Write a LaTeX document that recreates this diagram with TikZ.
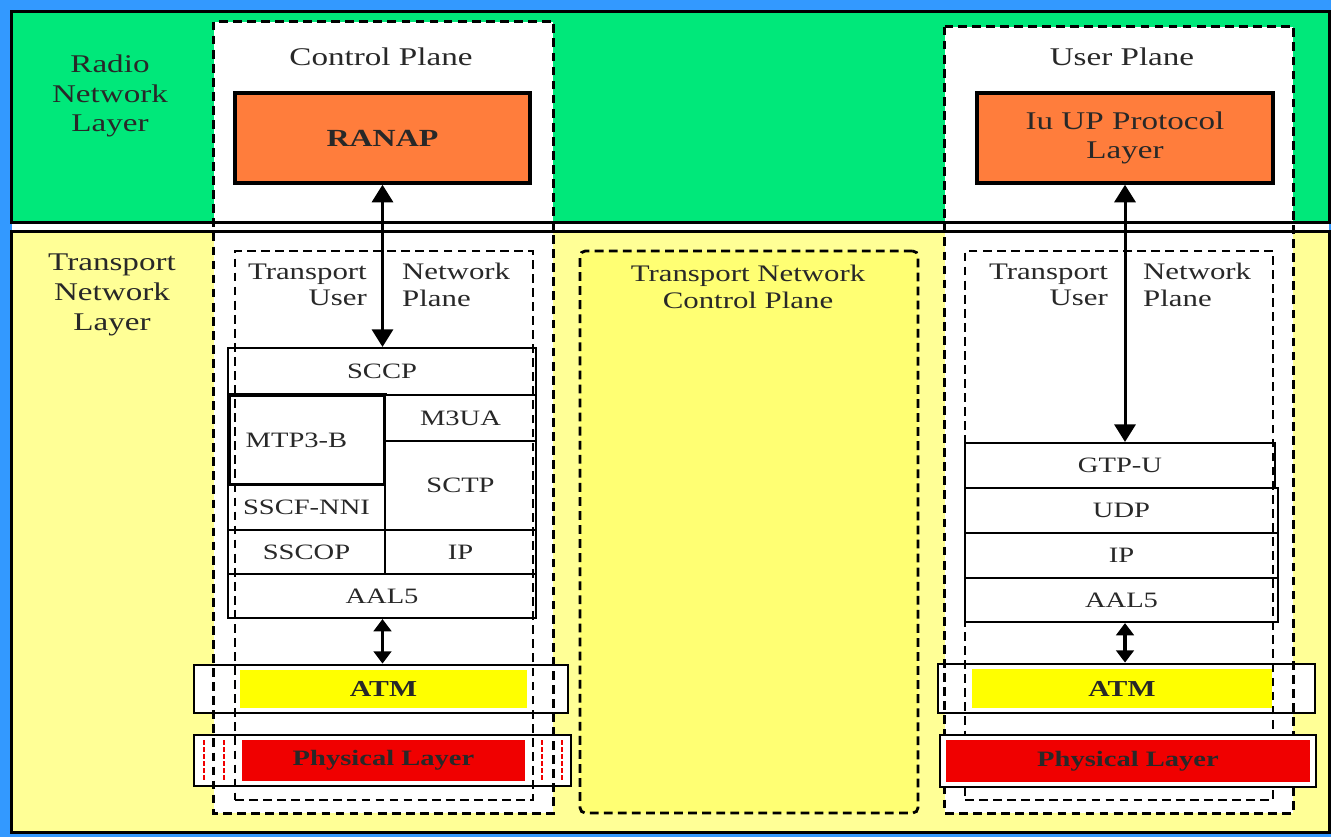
\documentclass[tikz,border=0pt]{standalone}
\usepackage{fontspec}
\setmainfont{Liberation Serif}[FakeStretch=1.3]
\usetikzlibrary{arrows.meta,fit,calc}
\definecolor{BgClr}{RGB}{51,153,255}
\definecolor{RadioClr}{RGB}{0,232,122}
\definecolor{TransportClr}{RGB}{255,255,150}
\definecolor{ControlClr}{RGB}{255,255,115}
\definecolor{ProtoClr}{RGB}{255,125,60}
\definecolor{AtmClr}{RGB}{255,255,0}
\definecolor{PhyClr}{RGB}{240,0,0}
\definecolor{TextClr}{RGB}{40,40,40}

\begin{document}
\begin{tikzpicture}[x=0.02cm,y=-0.02cm,
  box/.style={inner sep=0pt},
  band/.style={box,fill=#1},
  stacklbl/.style={text=TextClr,font=\fontsize{12.5}{14}\selectfont},
  protolbl/.style={text=TextClr,align=center,font=\fontsize{14.5}{16.5}\selectfont},
  widelbl/.style={text=TextClr,font=\bfseries\fontsize{13}{15}\selectfont},
  stack/.style={box,draw,line width=1.2pt,fill=white},
  proto/.style={box,draw,line width=2pt,fill=ProtoClr},
  wide/.style={box,draw,line width=1.6pt,fill=white},
  planeline/.style={line width=1.6pt,dash pattern=on 5pt off 3pt},
  title/.style={text=TextClr,align=center,font=\fontsize{14.5}{17}\selectfont},
  biarrow/.style={line width=1.7pt,arrows={Triangle[length=10pt,width=12pt]-Triangle[length=10pt,width=12pt]}},
  shortarrow/.style={line width=1.9pt,arrows={Triangle[length=7pt,width=10pt]-Triangle[length=7pt,width=10pt]}}
]
\fill[BgClr] (0,0) rectangle (1331,837);
\useasboundingbox (0,0) rectangle (1331,837);
\fill[white] (12,12) rectangle (1329,832);

% layers and planes
\node[band=RadioClr, fit={(12,12) (1329,222)}] (radio) {};
\node[band=TransportClr, fit={(12,232) (1329,832)}] (transport) {};
\node[band=white, fit={(214,22) (553,813)}] (cplane) {};
\node[band=white, fit={(945,27) (1293,813)}] (uplane) {};
\draw[line width=1.5pt] (radio.north west) rectangle (radio.south east)
  (transport.north west) rectangle (transport.south east);
\node[band=ControlClr, draw, planeline, rounded corners=3pt, fit={(580,251) (918,813)}] (tncp) {};

\node[title] (radiolbl) at (110,96) {Radio\\Network\\Layer};
\node[title] (translbl) at (112,295) {Transport\\Network\\Layer};
\node[title] (cplbl) at (381,57) {Control Plane};
\node[title] (uplbl) at (1122,57) {User Plane};
\node[title, font=\fontsize{13.5}{15.5}\selectfont] (tncplbl) at (748,287) {Transport Network\\Control Plane};
\node[title, anchor=east, align=right, font=\fontsize{13.5}{15}\selectfont] (tnupLa) at (373,285) {Transport\\User};
\node[title, anchor=west, align=left, font=\fontsize{13.5}{15}\selectfont] (tnupLb) at (396,285) {Network\\Plane};
\node[title, anchor=east, align=right, font=\fontsize{13.5}{15}\selectfont] (tnupRa) at (1114,285) {Transport\\User};
\node[title, anchor=west, align=left, font=\fontsize{13.5}{15}\selectfont] (tnupRb) at (1137,285) {Network\\Plane};

\node[proto, fit={(235,93) (530,183)}, label={[protolbl,font=\bfseries\fontsize{14}{16}\selectfont]center:RANAP}] (ranap) {};
\node[proto, fit={(977,93) (1273,183)}, label={[protolbl]center:{Iu UP Protocol\\Layer}}] (iuup) {};

% control plane stack
\node[stack, fit={(228,348) (536,395)}, label={[stacklbl]center:SCCP}] (sccp) {};
\node[stack, line width=2pt, fit={(229,395) (385,485)}, label={[stacklbl,xshift=-6pt]center:MTP3-B}] (mtp) {};
\node[stack, fit={(385,395) (536,441)}, label={[stacklbl]center:M3UA}] (m3ua) {};
\node[stack, fit={(385,441) (536,530)}, label={[stacklbl]center:SCTP}] (sctp) {};
\node[stack, fit={(228,485) (385,530)}, label={[stacklbl]center:SSCF-NNI}] (sscf) {};
\node[stack, fit={(228,530) (385,574)}, label={[stacklbl]center:SSCOP}] (sscop) {};
\node[stack, fit={(385,530) (536,574)}, label={[stacklbl]center:IP}] (ipL) {};
\node[stack, fit={(228,574) (536,618)}, label={[stacklbl]center:AAL5}] (aalL) {};

% user plane stack
\node[stack, fit={(965,443) (1275,488)}, label={[stacklbl]center:GTP-U}] (gtp) {};
\node[stack, fit={(965,488) (1278,533)}, label={[stacklbl]center:UDP}] (udp) {};
\node[stack, fit={(965,533) (1278,578)}, label={[stacklbl]center:IP}] (ipR) {};
\node[stack, fit={(965,578) (1278,622)}, label={[stacklbl]center:AAL5}] (aalR) {};

\node[wide, fit={(194,665) (568,713)}] (atmLbox) {};
\node[band=AtmClr, fit={(240,670) (527,708)}, label={[widelbl]center:ATM}] (atmL) {};
\node[wide, fit={(194,735) (571,786)}] (phyLbox) {};
\node[band=PhyClr, fit={(242,740) (525,781)}, label={[widelbl,font=\bfseries\fontsize{12.5}{15}\selectfont]center:Physical Layer}] (phyL) {};
\draw[PhyClr, line width=0.6pt, dash pattern=on 3pt off 1pt] (204,740) -- (204,781) (224,740) -- (224,781)
  (542,740) -- (542,781) (562,740) -- (562,781);
\node[wide, fit={(938,664) (1315,713)}] (atmRbox) {};
\node[band=AtmClr, fit={(972,669) (1272,708)}, label={[widelbl]center:ATM}] (atmR) {};

\draw[biarrow] (ranap.south) -- (ranap.south |- sccp.north);
\draw[biarrow] (iuup.south) -- (iuup.south |- gtp.north);
\draw[shortarrow] (ranap.south |- aalL.south) -- (ranap.south |- atmLbox.north);
\draw[shortarrow] (iuup.south |- aalR.south) -- (iuup.south |- atmRbox.north);

% dashed borders on top
\draw[planeline] (cplane.north west) rectangle (cplane.south east);
\draw[planeline] (uplane.north west) rectangle (uplane.south east);
\node[box, draw, planeline, fit={(235,251) (533,800)}] (tnupL) {};
\node[box, draw, planeline, fit={(965,251) (1273,800)}] (tnupR) {};

\node[wide, fit={(940,735) (1316,787)}] (phyRbox) {};
\node[band=PhyClr, fit={(946,740) (1310,782)}, label={[widelbl,font=\bfseries\fontsize{12.5}{15}\selectfont]center:Physical Layer}] (phyR) {};
\end{tikzpicture}
\end{document}
